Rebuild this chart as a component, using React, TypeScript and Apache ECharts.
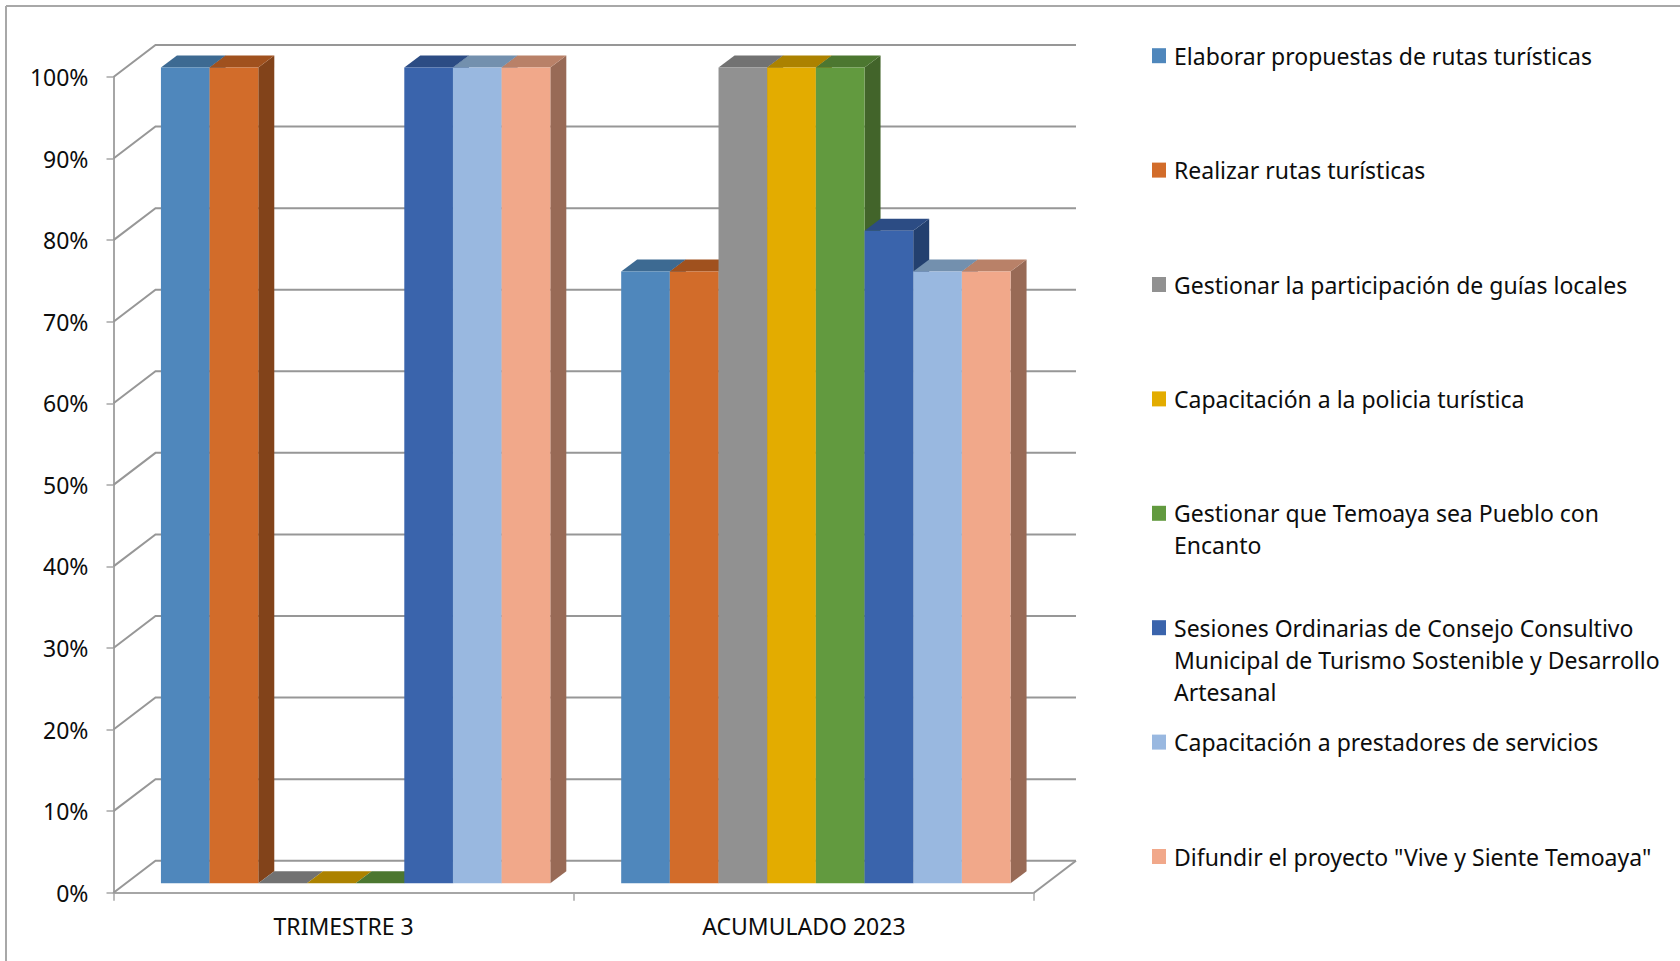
import React, { useEffect, useRef } from "react";
import * as echarts from "echarts";

const categories = ["TRIMESTRE 3", "ACUMULADO 2023"];
const seriesNames = [
  "Elaborar propuestas de rutas turísticas",
  "Realizar rutas turísticas",
  "Gestionar la participación de guías locales",
  "Capacitación a la policia turística",
  "Gestionar que Temoaya sea Pueblo con Encanto",
  "Sesiones Ordinarias de Consejo Consultivo Municipal de Turismo Sostenible y Desarrollo Artesanal",
  "Capacitación a prestadores de servicios",
  'Difundir el proyecto "Vive y Siente Temoaya"',
];
const legendLines = [
  ["Elaborar propuestas de rutas turísticas"],
  ["Realizar rutas turísticas"],
  ["Gestionar la participación de guías locales"],
  ["Capacitación a la policia turística"],
  ["Gestionar que Temoaya sea Pueblo con", "Encanto"],
  ["Sesiones Ordinarias de Consejo Consultivo", "Municipal de Turismo Sostenible y Desarrollo", "Artesanal"],
  ["Capacitación a prestadores de servicios"],
  ['Difundir el proyecto "Vive y Siente Temoaya"'],
];
const trimestre3 = [100, 100, 0, 0, 0, 100, 100, 100];
const acumulado2023 = [75, 75, 100, 100, 100, 80, 75, 75];
const gridTicks = [0, 10, 20, 30, 40, 50, 60, 70, 80, 90, 100];

const frontColors = ["#4f87bc", "#d26c2a", "#919191", "#e3ac00", "#629a3f", "#3a64ac", "#99b8e0", "#f1a88a"];
const topColors = ["#3d6a92", "#a0511e", "#727272", "#ac8200", "#4c7730", "#2c4c84", "#7390ae", "#b98168"];
const sideColors = ["#33587a", "#82431a", "#5e5e5e", "#8f6c00", "#42642a", "#23406f", "#607890", "#986a56"];

const FONT = "Noto Sans";
const FONT_SIZE = 23;
const TEXT = "#0d0d0d";
const WALL_DX = 42;
const WALL_DY = 32;
const BAR_SHIFT_X = 12;
const BAR_SHIFT_Y = 9.4;
const BAR_DEPTH_X = 16;
const BAR_DEPTH_Y = 12;
const BAR_FILL = 0.846;
const LINE_H = 32;
const LEGEND_Y0 = 55.7;
const LEGEND_STEP = 114.4;

function barSeries(i: number) {
  return {
    type: "custom",
    name: seriesNames[i],
    z: 5,
    itemStyle: { color: frontColors[i] },
    encode: { x: 0, y: 1 },
    data: [
      [0, trimestre3[i]],
      [1, acumulado2023[i]],
    ],
    renderItem: (_p: any, api: any) => {
      const top = api.coord([api.value(0), api.value(1)]);
      const base = api.coord([api.value(0), 0]);
      const w = (api.size([1, 0])[0] * BAR_FILL) / seriesNames.length;
      const x0 = top[0] + (i - seriesNames.length / 2) * w + BAR_SHIFT_X;
      const x1 = x0 + w;
      const y0 = top[1] - BAR_SHIFT_Y;
      const yb = base[1] - BAR_SHIFT_Y;
      const dx = BAR_DEPTH_X;
      const dy = BAR_DEPTH_Y;
      return {
        type: "group",
        children: [
          {
            type: "polygon",
            shape: { points: [[x1, y0], [x1 + dx, y0 - dy], [x1 + dx, yb - dy], [x1, yb]] },
            style: { fill: sideColors[i] },
          },
          {
            type: "polygon",
            shape: { points: [[x0, y0], [x0 + dx, y0 - dy], [x1 + dx, y0 - dy], [x1, y0]] },
            style: { fill: topColors[i] },
          },
          {
            type: "rect",
            shape: { x: x0, y: y0, width: w, height: yb - y0 },
            style: { fill: frontColors[i] },
          },
        ],
      };
    },
  };
}

const wallSeries = {
  type: "custom",
  name: "wall",
  silent: true,
  z: 1,
  encode: { y: 0 },
  data: gridTicks.map((t) => [t]),
  renderItem: (p: any, api: any) => {
    const y = api.coord([0, api.value(0)])[1];
    const left = p.coordSys.x;
    const right = left + p.coordSys.width;
    const children: any[] = [
      {
        type: "polyline",
        shape: { points: [[left, y], [left + WALL_DX, y - WALL_DY], [right + WALL_DX, y - WALL_DY]] },
        style: { stroke: "#979797", lineWidth: 2, fill: "none" },
      },
    ];
    if (api.value(0) === 0) {
      children.push({
        type: "line",
        shape: { x1: right, y1: y, x2: right + WALL_DX, y2: y - WALL_DY },
        style: { stroke: "#979797", lineWidth: 2 },
      });
    }
    return { type: "group", children };
  },
};

const legends = seriesNames.map((name, i) => {
  const n = legendLines[i].length;
  const total = n === 1 ? 1 : 2 * n - 1;
  return {
    data: [name],
    orient: "vertical",
    left: 1152,
    top: LEGEND_Y0 + i * LEGEND_STEP - (total * LINE_H) / 2 - 1,
    padding: 0,
    itemWidth: 14,
    itemHeight: 15,
    icon: "rect",
    selectedMode: false,
    formatter: () => {
      const blanks = new Array(n - 1).fill("");
      return [...blanks, ...legendLines[i]].join("\n");
    },
    textStyle: { fontFamily: FONT, fontSize: FONT_SIZE, color: TEXT, lineHeight: LINE_H, padding: [0, 0, 2, 3] },
  };
});

export default function App() {
  const ref = useRef<HTMLDivElement>(null);
  useEffect(() => {
    document.body.style.margin = "0";
    document.body.style.overflow = "hidden";
    const chart = echarts.init(ref.current!, null, { renderer: "svg" });
    chart.setOption({
      animation: false,
      backgroundColor: "#ffffff",
      grid: { left: 113.5, top: 77, width: 920.5, height: 815.7, containLabel: false },
      xAxis: {
        type: "category",
        data: categories,
        axisLine: { lineStyle: { color: "#a6a6a6", width: 2 } },
        axisTick: { show: true, alignWithLabel: false, length: 8, lineStyle: { color: "#a6a6a6", width: 1.5 } },
        axisLabel: { fontFamily: FONT, fontSize: FONT_SIZE, color: TEXT, margin: 22 },
        splitLine: { show: false },
      },
      yAxis: {
        type: "value",
        min: 0,
        max: 100,
        interval: 10,
        axisLine: { show: true, lineStyle: { color: "#a6a6a6", width: 2 } },
        axisTick: { show: true, length: 7, lineStyle: { color: "#a6a6a6", width: 1.5 } },
        axisLabel: { fontFamily: FONT, fontSize: FONT_SIZE, color: TEXT, margin: 25, formatter: "{value}%" },
        splitLine: { show: false },
      },
      legend: legends,
      graphic: [
        { type: "line", silent: true, shape: { x1: 6, y1: 6, x2: 1680, y2: 6 }, style: { stroke: "#a8a8a8", lineWidth: 2 } },
        { type: "line", silent: true, shape: { x1: 6, y1: 6, x2: 6, y2: 961 }, style: { stroke: "#a8a8a8", lineWidth: 2 } },
      ],
      series: [wallSeries, ...seriesNames.map((_, i) => barSeries(i))],
    });
    return () => chart.dispose();
  }, []);
  return <div ref={ref} style={{ width: 1680, height: 961 }} />;
}
